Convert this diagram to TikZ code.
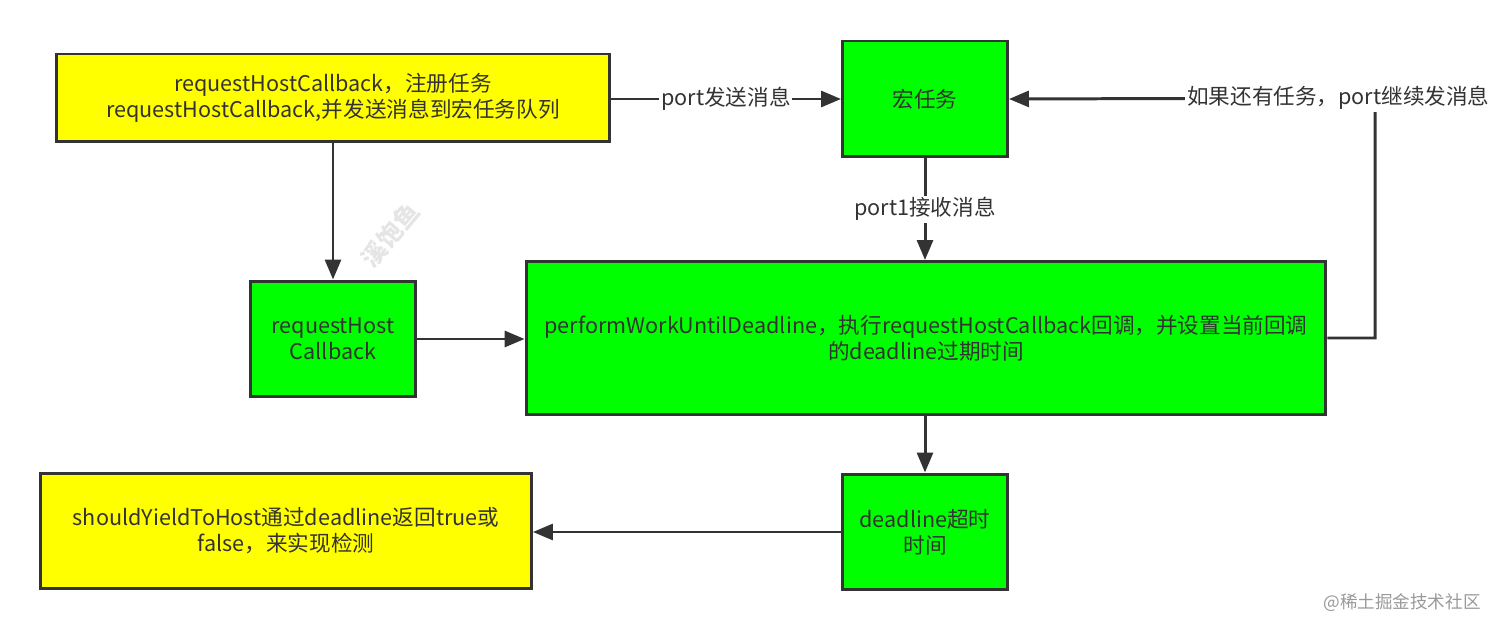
\documentclass[tikz,border=0pt]{standalone}
\usepackage{fontspec}
\setmainfont{Noto Sans CJK SC}
\usetikzlibrary{arrows.meta,calc}

\begin{document}
\begin{tikzpicture}[
        %Environment config
        x=0.02cm, y=-0.02cm,
        font=\fontsize{12.3pt}{14.8pt}\selectfont,
        line width=1.7pt,
        color={rgb,255:red,51;green,51;blue,51},
        >={Triangle[length=0.4cm,width=0.32cm]},
        %Environment styles
        BoxCfg/.style={
            draw={rgb,255:red,51;green,51;blue,51},
            align=center,
            inner sep=0pt
        },
        YellowBox/.style={BoxCfg, fill={rgb,255:red,255;green,255;blue,0}},
        GreenBox/.style={BoxCfg, fill={rgb,255:red,0;green,255;blue,0}},
        LabelCfg/.style={fill=white, inner sep=1pt}
    ]
    \useasboundingbox (0,0) rectangle (1512,631);
    \path
        (333,98) node[YellowBox, minimum width=11.06cm, minimum height=1.76cm](Reg){requestHostCallback，注册任务\\requestHostCallback,并发送消息到宏任务队列}
        (925,99) node[GreenBox, minimum width=3.3cm, minimum height=2.32cm](Macro){宏任务}
        (333,339) node[GreenBox, minimum width=3.3cm, minimum height=2.32cm](Req){requestHost\\Callback}
        (926,338) node[GreenBox, minimum width=16cm, minimum height=3.06cm](Perf){performWorkUntilDeadline，执行requestHostCallback回调，并设置当前回调\\的deadline过期时间}
        (925,532) node[GreenBox, minimum width=3.3cm, minimum height=2.32cm](Dead){deadline超时\\时间}
        (286,531) node[YellowBox, minimum width=9.82cm, minimum height=2.3cm](Yield){shouldYieldToHost通过deadline返回true或\\false，来实现检测}
        (1375,98) coordinate (loop);

    \draw[->] (Reg.east |- Macro.west) -- node[LabelCfg]{port发送消息} (Macro.west);
    \draw[->] (Reg.south) -- (Req.north);
    \draw[->] (Macro.south) -- node[LabelCfg]{port1接收消息} (Perf.north -| Macro.south);
    \draw[->] (Req.east) -- (Perf.west |- Req.east);
    \draw[->] (Perf.east) -| (loop) -- node[LabelCfg, pos=0.1]{如果还有任务，port继续发消息} (Macro.east);
    \draw[->] (Perf.south -| Dead.north) -- (Dead.north);
    \draw[->] (Dead.west) -- (Yield.east |- Dead.west);

    %watermarks
    \node[rotate=50, text=black!10, font=\fontsize{14pt}{14pt}\selectfont\bfseries] (wm1) at (390,235) {溪饱鱼};
    \node[text=black!40, font=\fontsize{10pt}{10pt}\selectfont] (wm2) at (1402,603) {@稀土掘金技术社区};
\end{tikzpicture}
\end{document}
